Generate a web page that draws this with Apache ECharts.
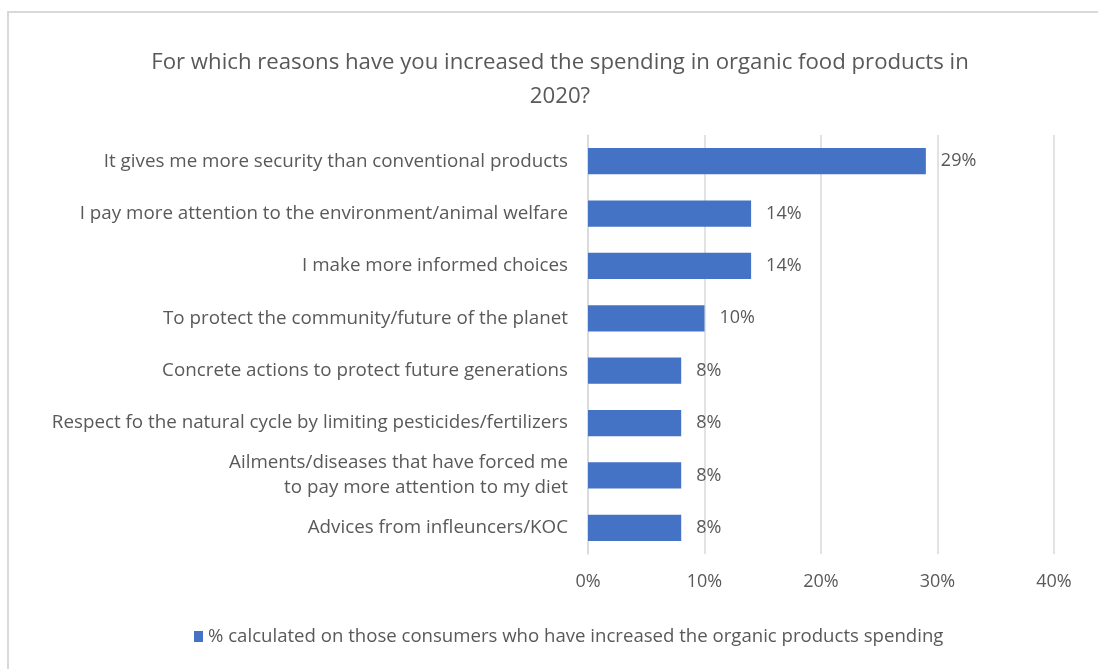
<!DOCTYPE html>
<html>
<head>
<meta charset="utf-8">
<script src="https://cdn.jsdelivr.net/npm/echarts@6/dist/echarts.min.js"></script>
<style>
  html, body { margin: 0; padding: 0; background: #fff; overflow: hidden; }
  #frame { position: absolute; left: 7px; top: 11px; width: 1096px; height: 700px;
           border: 2px solid #d9d9d9; box-sizing: border-box; }
  #chart { position: absolute; left: 0; top: 0; width: 1098px; height: 669px; }
</style>
</head>
<body>
<div id="frame"></div>
<div id="chart"></div>
<script>
// Reasons for increased organic food spending (share of respondents)
const categories = [
  'It gives me more security than conventional products',
  'I pay more attention to the environment/animal welfare',
  'I make more informed choices',
  'To protect the community/future of the planet',
  'Concrete actions to protect future generations',
  'Respect fo the natural cycle by limiting pesticides/fertilizers',
  'Ailments/diseases that have forced me\nto pay more attention to my diet',
  'Advices from infleuncers/KOC'
];
const values = [0.29, 0.14, 0.14, 0.10, 0.08, 0.08, 0.08, 0.08];
const xTicks = [0, 0.1, 0.2, 0.3, 0.4];
const seriesName = '% calculated on those consumers who have increased the organic products spending';
const titleText = 'For which reasons have you increased the spending in organic food products in\n2020?';

const FONT = '"Open Sans", "Noto Sans", sans-serif';
const TEXT = '#595959';

const chart = echarts.init(document.getElementById('chart'), null, { renderer: 'canvas' });
chart.setOption({
  backgroundColor: 'transparent',
  animation: false,
  textStyle: { fontFamily: FONT },
  title: {
    text: titleText,
    left: 555,
    textAlign: 'center',
    top: 41,
    textStyle: { fontFamily: FONT, fontSize: 22.2, fontWeight: 'normal', color: TEXT, lineHeight: 34 }
  },
  legend: {
    bottom: 18,
    left: 189,
    itemWidth: 9,
    itemHeight: 11,
    itemGap: 5,
    icon: 'rect',
    textStyle: { fontFamily: FONT, fontSize: 18.6, color: TEXT },
    data: [seriesName]
  },
  grid: { left: 588, top: 135, width: 466, height: 419, containLabel: false },
  xAxis: {
    type: 'value',
    min: xTicks[0],
    max: xTicks[xTicks.length - 1],
    interval: 0.1,
    axisLine: { show: false },
    axisTick: { show: false },
    splitLine: { show: true, lineStyle: { color: '#d9d9d9', width: 1.5 } },
    axisLabel: {
      color: TEXT, fontSize: 18, fontFamily: FONT, margin: 19,
      formatter: v => Math.round(v * 100) + '%'
    }
  },
  yAxis: {
    type: 'category',
    inverse: true,
    data: categories,
    axisLine: { show: true, lineStyle: { color: '#d9d9d9', width: 1.5 } },
    axisTick: { show: false },
    axisLabel: { color: TEXT, fontSize: 18.8, fontFamily: FONT, margin: 20, lineHeight: 25, align: 'right' }
  },
  series: [{
    name: seriesName,
    type: 'bar',
    data: values,
    barWidth: '50%',
    itemStyle: { color: '#4472c4' },
    label: {
      show: true,
      position: 'right',
      distance: 15,
      color: TEXT,
      fontSize: 18,
      fontFamily: FONT,
      formatter: p => Math.round(p.value * 100) + '%'
    }
  }]
});
</script>
</body>
</html>
